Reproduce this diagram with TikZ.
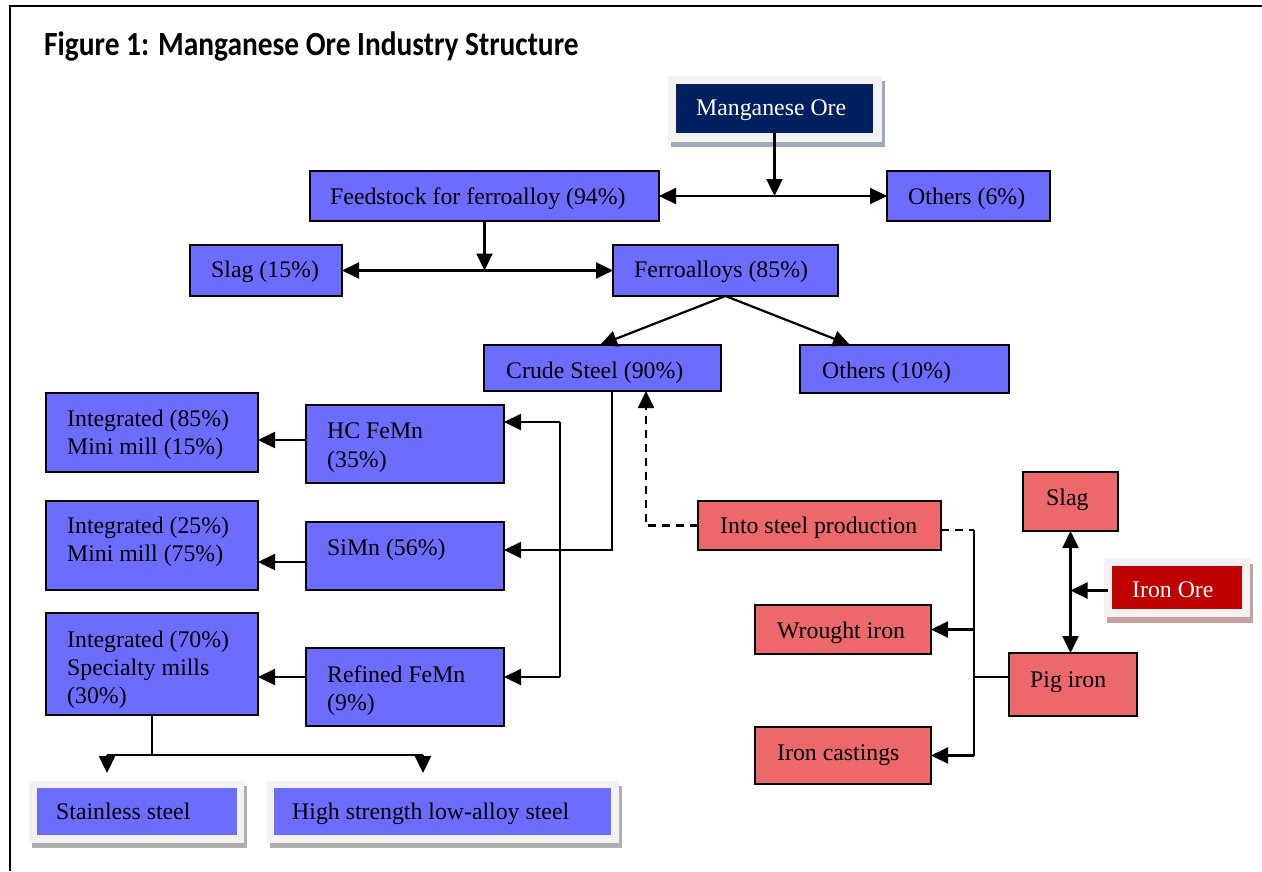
\documentclass[tikz,border=0pt]{standalone}
\usepackage{fontspec}
\setmainfont{Liberation Serif}
\newfontfamily\titlefont{Carlito}
\usetikzlibrary{arrows.meta,calc}
\definecolor{bl}{RGB}{108,108,255}
\definecolor{rd}{RGB}{236,104,106}
\definecolor{navy}{RGB}{0,32,96}
\definecolor{ore}{RGB}{192,0,0}
\definecolor{framegray}{RGB}{242,242,242}
\definecolor{shblue}{RGB}{160,168,188}
\definecolor{shpink}{RGB}{200,160,160}
\definecolor{shgray}{RGB}{176,176,176}
\newcommand{\tf}{\fontsize{23.8}{28}\selectfont}
\tikzset{
  bx/.style={draw=black, line width=2pt, inner sep=0pt, outer sep=0pt, anchor=north west},
  plain/.style={inner sep=0pt, outer sep=0pt, anchor=north west},
  bbox/.style={bx, fill=bl},
  rbox/.style={bx, fill=rd},
  txt/.style={anchor=base west, inner sep=0pt, font=\tf},
  con/.style={line width=2.2pt},
  tip/.tip={Triangle[length=17pt,width=16pt]},
  arr/.style={con, -tip},
  arrr/.style={con, tip-tip},
  dsh/.style={con, dash pattern=on 8pt off 6pt},
}
\begin{document}
\begin{tikzpicture}[x=1pt,y=-1pt]
\useasboundingbox (0,0) rectangle (1262,871);
% outer frame
\draw[line width=2.2pt] (9,6) -- (1262,6);
\draw[line width=2.2pt] (10,5) -- (10,871);
% title
\node[anchor=base west, inner sep=0pt, font=\titlefont\bfseries\fontsize{29.4}{34}\selectfont] (title) at (44,55) {\scalebox{1}[1.15]{Figure 1: Manganese Ore Industry Structure}};

% Manganese Ore
\node[plain, fill=shblue, minimum width=214pt, minimum height=66pt] (mo-s) at (671,81) {};
\node[plain, fill=framegray, minimum width=214pt, minimum height=66pt] (mo-f) at (668,76) {};
\node[plain, fill=navy, minimum width=197pt, minimum height=49pt] (mo) at (676,84) {};
\node[txt, text=white] (mo-t) at (696,115) {Manganese Ore};

% blue boxes
\node[bbox, minimum width=349pt, minimum height=50pt] (fs) at (310,171) {};
\node[txt] (fs-t) at (330,204) {Feedstock for ferroalloy (94\%)};
\node[bbox, minimum width=163pt, minimum height=50pt] (o6) at (887,171) {};
\node[txt] (o6-t) at (908,204) {Others (6\%)};
\node[bbox, minimum width=152pt, minimum height=51pt] (slag) at (190,245) {};
\node[txt] (slag-t) at (211,277) {Slag (15\%)};
\node[bbox, minimum width=225pt, minimum height=51pt] (fa) at (613,245) {};
\node[txt] (fa-t) at (634,277) {Ferroalloys (85\%)};
\node[bbox, minimum width=237pt, minimum height=46pt] (cs) at (484,345) {};
\node[txt] (cs-t) at (506,378) {Crude Steel (90\%)};
\node[bbox, minimum width=209pt, minimum height=48pt] (o10) at (800,345) {};
\node[txt] (o10-t) at (822,378) {Others (10\%)};
\node[bbox, minimum width=198pt, minimum height=78pt] (hc) at (306,405) {};
\node[txt] (hc-t1) at (327,438) {HC FeMn};
\node[txt] (hc-t2) at (327,467) {(35\%)};
\node[bbox, minimum width=198pt, minimum height=68pt] (simn) at (306,522) {};
\node[txt] (simn-t) at (327,555) {SiMn (56\%)};
\node[bbox, minimum width=198pt, minimum height=78pt] (rf) at (306,648) {};
\node[txt] (rf-t1) at (327,682) {Refined FeMn};
\node[txt] (rf-t2) at (327,710) {(9\%)};
\node[bbox, minimum width=212pt, minimum height=79pt] (i1) at (46,393) {};
\node[txt] (i1-t1) at (67,426) {Integrated (85\%)};
\node[txt] (i1-t2) at (67,454) {Mini mill (15\%)};
\node[bbox, minimum width=212pt, minimum height=89pt] (i2) at (46,501) {};
\node[txt] (i2-t1) at (67,533) {Integrated (25\%)};
\node[txt] (i2-t2) at (67,561) {Mini mill (75\%)};
\node[bbox, minimum width=212pt, minimum height=102pt] (i3) at (46,613) {};
\node[txt] (i3-t1) at (67,647) {Integrated (70\%)};
\node[txt] (i3-t2) at (67,675) {Specialty mills};
\node[txt] (i3-t3) at (67,703) {(30\%)};

% bottom boxes
\node[plain, fill=shgray, minimum width=215pt, minimum height=62pt] (ss-s) at (32,786) {};
\node[plain, fill=framegray, minimum width=215pt, minimum height=62pt] (ss-f) at (29,781) {};
\node[plain, fill=bl, minimum width=200pt, minimum height=47pt] (ss) at (37,788) {};
\node[txt] (ss-t) at (56,819) {Stainless steel};
\node[plain, fill=shgray, minimum width=352pt, minimum height=62pt] (hs-s) at (270,786) {};
\node[plain, fill=framegray, minimum width=352pt, minimum height=62pt] (hs-f) at (267,781) {};
\node[plain, fill=bl, minimum width=337pt, minimum height=47pt] (hs) at (274,788) {};
\node[txt] (hs-t) at (292,819) {High strength low-alloy steel};

% red boxes
\node[rbox, minimum width=243pt, minimum height=49pt] (isp) at (698,501) {};
\node[txt] (isp-t) at (720,533) {Into steel production};
\node[rbox, minimum width=95pt, minimum height=59pt] (sl2) at (1023,472) {};
\node[txt] (sl2-t) at (1046,505) {Slag};
\node[rbox, minimum width=176pt, minimum height=49pt] (wi) at (755,605) {};
\node[txt] (wi-t) at (777,638) {Wrought iron};
\node[rbox, minimum width=128pt, minimum height=63pt] (pi) at (1009,653) {};
\node[txt] (pi-t) at (1030,687) {Pig iron};
\node[rbox, minimum width=176pt, minimum height=57pt] (ic) at (755,727) {};
\node[txt] (ic-t) at (777,760) {Iron castings};
\node[plain, fill=shpink, minimum width=146pt, minimum height=59pt] (io-s) at (1107,564) {};
\node[plain, fill=framegray, minimum width=146pt, minimum height=59pt] (io-f) at (1104,558) {};
\node[plain, fill=ore, minimum width=130pt, minimum height=43pt] (io) at (1112,566) {};
\node[txt, text=white] (io-t) at (1132,597) {Iron Ore};

% connectors: top
\draw[arr] (mo.south) -- (mo.south |- fs.east);
\draw[arrr] (fs.east) -- (o6.west);
\draw[arr] (fs.south) -- (fs.south |- slag.east);
\draw[arrr] (slag.east) -- (fa.west);
\draw[arr] (fa.south) -- ($(cs.north west)+(116,0)$);
\draw[arr] (fa.south) -- ($(o10.north west)+(50,0)$);

% crude steel to SiMn
\coordinate (csb) at ($(cs.south west)+(128,0)$);
\coordinate (sme) at ($(simn.north east)+(0,28)$);
\draw[arr] (csb) |- (sme);
% distribution bar
\coordinate (v1) at ($(hc.north east)+(56,17)$);
\coordinate (v2) at ($(rf.north east)+(56,29)$);
\draw[con] (v1) -- (v2);
\draw[arr] (v1) -- (v1 -| hc.east);
\draw[arr] (v2) -- (v2 -| rf.east);
% to integrated boxes
\coordinate (h1) at ($(hc.north west)+(0,35)$);
\coordinate (h2) at ($(simn.north west)+(0,40)$);
\coordinate (h3) at ($(rf.north west)+(0,29)$);
\draw[arr] (h1) -- (h1 -| i1.east);
\draw[arr] (h2) -- (h2 -| i2.east);
\draw[arr] (h3) -- (h3 -| i3.east);
% to bottom boxes
\coordinate (b1) at (107,755);
\coordinate (b2) at (423,755);
\draw[con] (i3.south) -- (i3.south |- b1);
\draw[con] (b1) -- (b2);
\draw[arr, shorten >=8pt] (b1) -- (b1 |- ss-f.north);
\draw[arr, shorten >=8pt] (b2) -- (b2 |- hs-f.north);

% iron part
\coordinate (csd) at ($(cs.south west)+(162,0)$);
\draw[dsh, -tip] (isp.west) -| (csd);
\coordinate (ispr) at ($(isp.north east)+(0,29)$);
\coordinate (jx) at ($(isp.north east)+(33,29)$);
\draw[dsh] (ispr) -- (jx);
\coordinate (jb) at (jx |- ic.east);
\draw[con] (jx) -- (jb);
\draw[arr] (jb) -- (ic.east);
\draw[arr] (jx |- wi.east) -- (wi.east);
\coordinate (pil) at ($(pi.north west)+(0,24)$);
\draw[con] (pil) -- (pil -| jx);
\draw[arrr] (sl2.south) -- (sl2.south |- pi.north);
\coordinate (iol) at ($(io-f.west)+(4,3)$);
\draw[arr] (iol) -- (iol -| sl2.south);
\end{tikzpicture}
\end{document}
